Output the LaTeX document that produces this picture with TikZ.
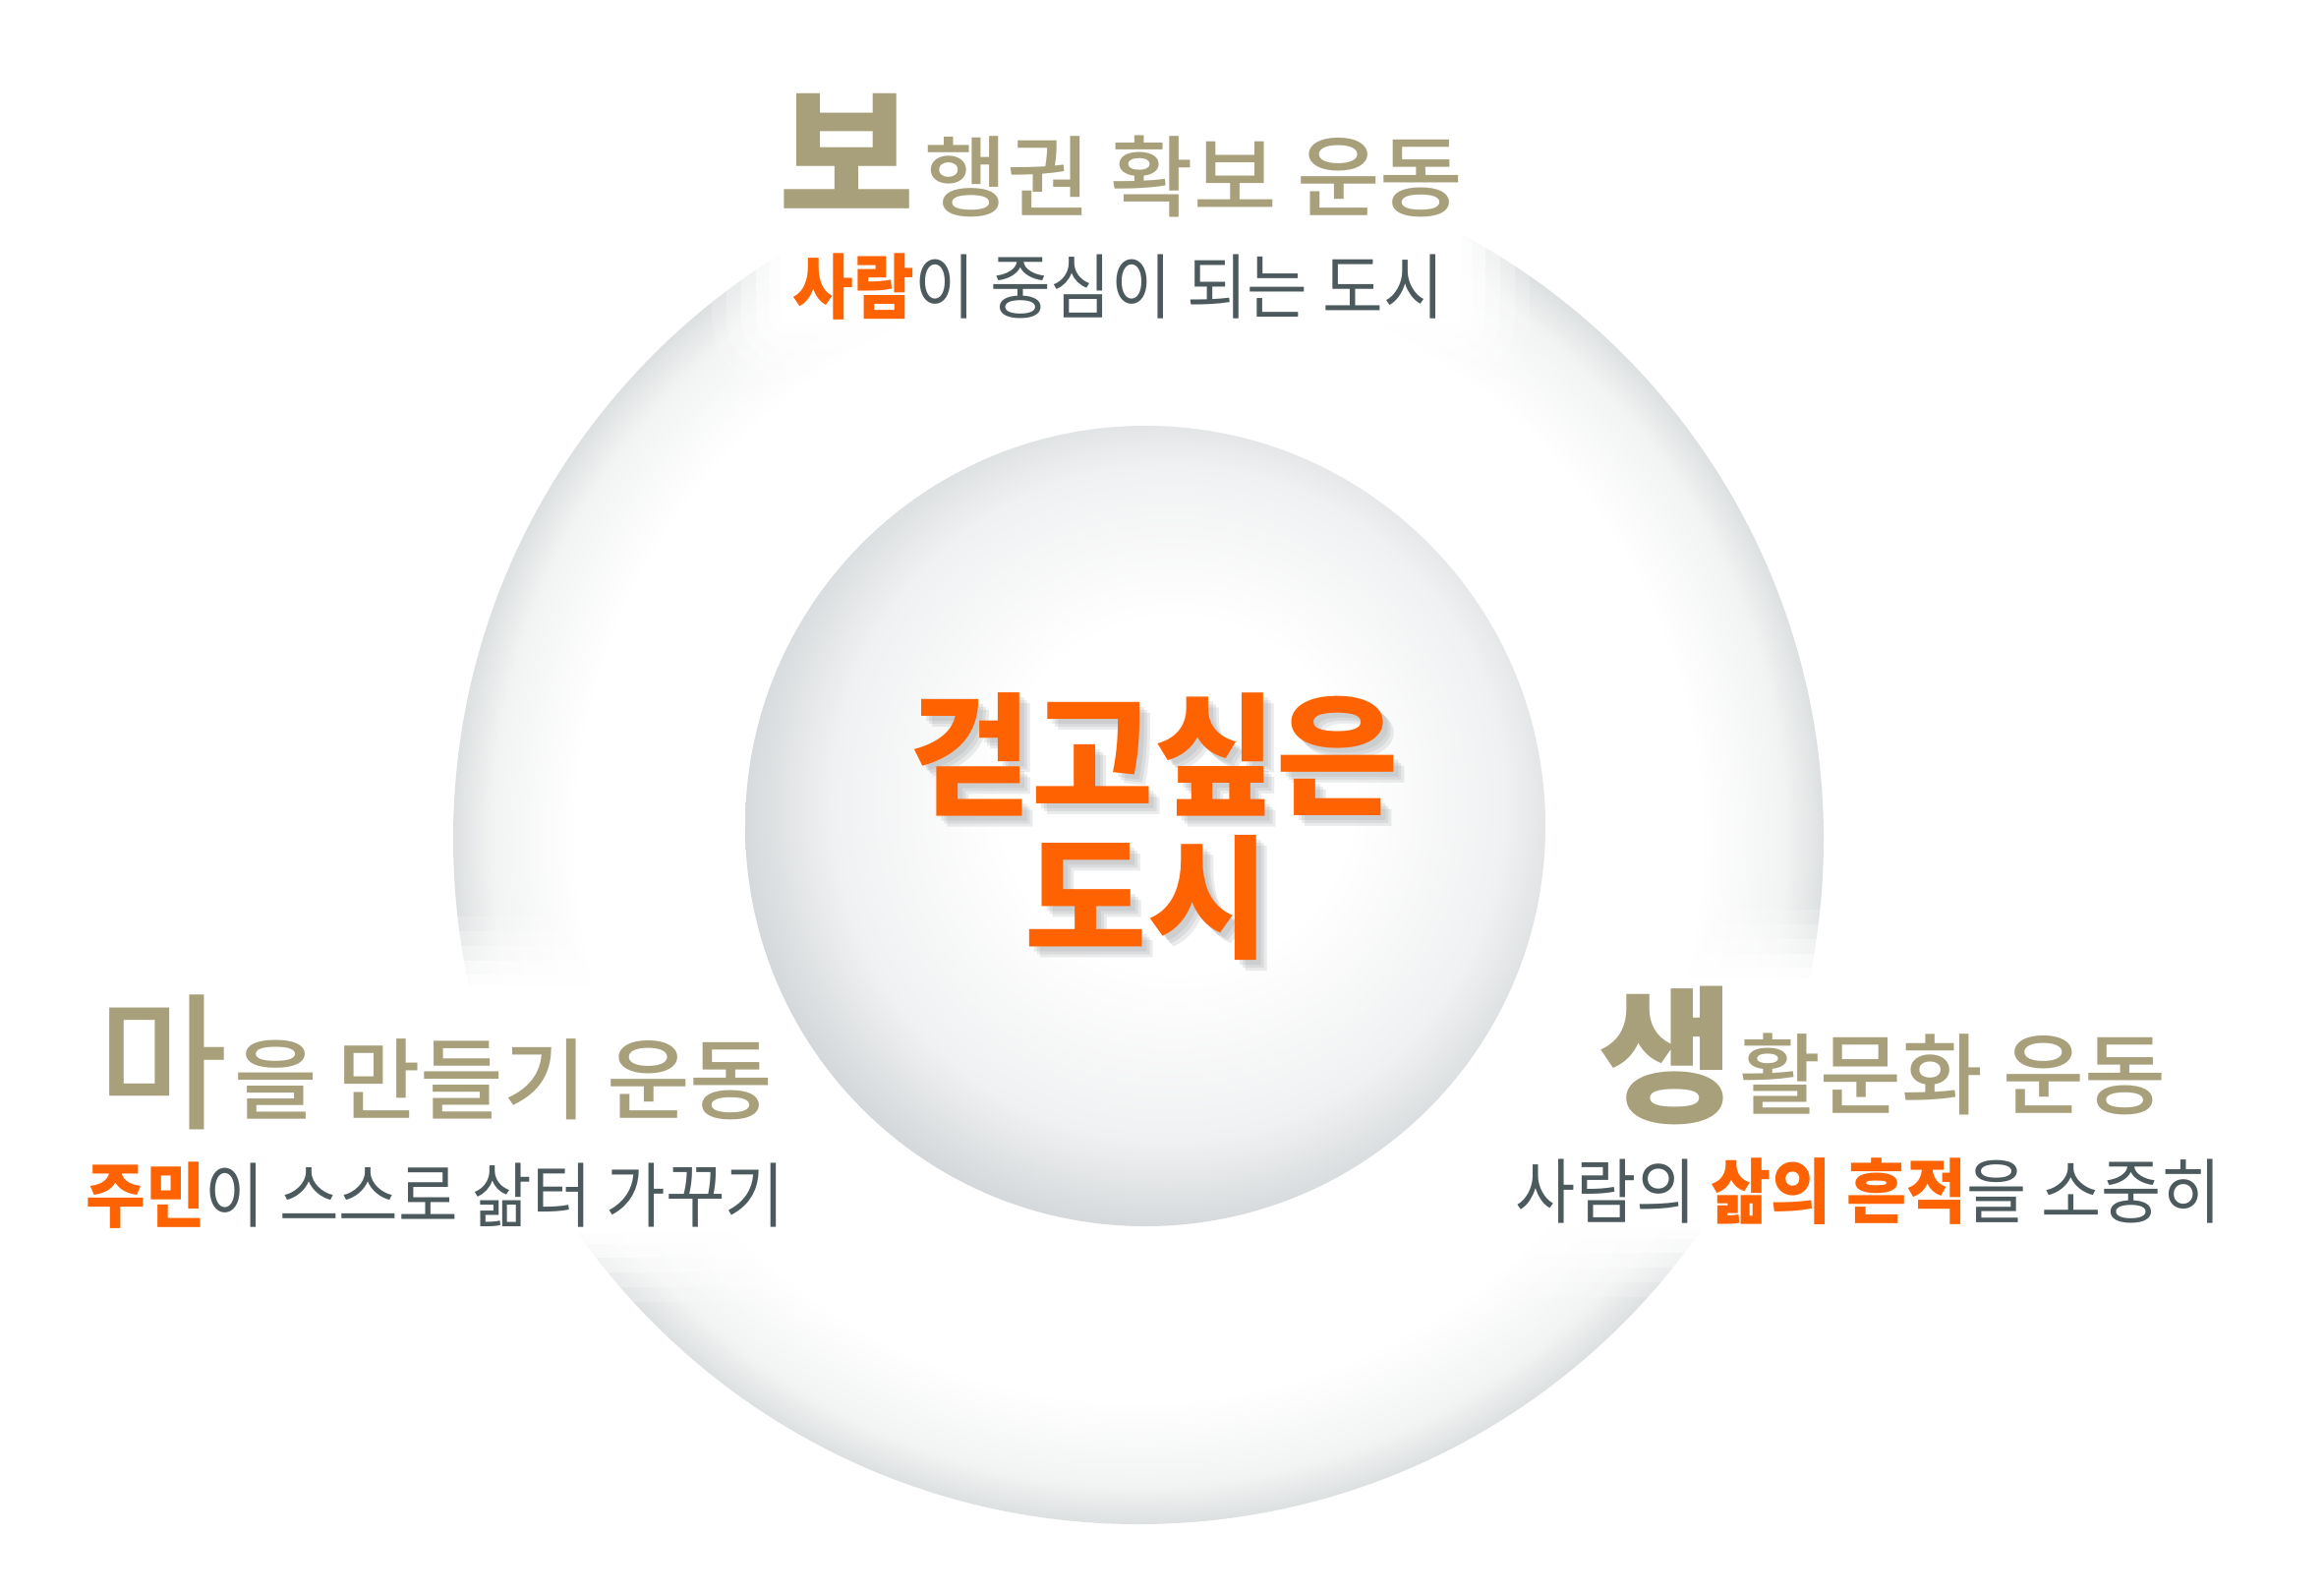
\documentclass[tikz,border=0pt]{standalone}
\usepackage{fontspec}
\setmainfont{Noto Sans CJK KR}
\newfontfamily\krmed{Noto Sans CJK KR Medium}
\usetikzlibrary{calc}
\definecolor{tanc}{HTML}{A8A07A}
\definecolor{orangec}{HTML}{FF6200}
\definecolor{greyc}{HTML}{4C5A5E}
\definecolor{ringmid}{HTML}{F2F3F3}
\definecolor{ringedge}{HTML}{DDE0E1}
\definecolor{ballmid}{HTML}{F0F1F2}
\definecolor{balledge}{HTML}{D2D6D8}
\definecolor{shadowc}{HTML}{9A9EA0}
\pgfdeclareradialshading{outerdisc}{\pgfpoint{0bp}{0bp}}{color(0bp)=(white); color(20.5bp)=(white); color(23.6bp)=(ringmid); color(25bp)=(ringedge); color(50bp)=(ringedge)}
\pgfdeclareradialshading{innerball}{\pgfpoint{2.5bp}{2.5bp}}{color(0bp)=(white); color(11bp)=(white); color(21bp)=(ballmid); color(27bp)=(balledge); color(50bp)=(balledge)}
\newcommand\softcover[4]{%
  \foreach \m/\op in {75/0.18,60/0.25,45/0.35,30/0.5,16/0.7}{%
    \fill[white, opacity=\op, rounded corners=\m] ({#1-\m},{#2-\m}) rectangle ({#3+\m},{#4+\m});}%
  \fill[white, rounded corners=5] ({#1-5},{#2-5}) rectangle ({#3+5},{#4+5});}
\tikzset{
  txt/.style={inner sep=0pt, outer sep=0pt, anchor=center},
  bigchar/.style={txt, text=tanc, font=\fontsize{150}{160}\selectfont\bfseries},
  bigcharmed/.style={txt, text=tanc, font=\fontsize{150}{160}\krmed},
  titlerest/.style={txt, anchor=west, text=tanc, font=\fontsize{90}{100}\krmed},
  subtitle/.style={txt, text=greyc, font=\fontsize{72}{80}\selectfont},
  centertxt/.style={txt, text=orangec, font=\fontsize{135}{150}\selectfont\bfseries},
  shadowtxt/.style={centertxt, text=shadowc, opacity=0.2}
}
\newcommand\hot[1]{{\color{orangec}\bfseries #1}}
\begin{document}
\begin{tikzpicture}[x=1pt,y=-1pt]
  \useasboundingbox (0,0) rectangle (2364,1621);
  \fill[white] (0,0) rectangle (2364,1621);
  % outer disc
  \shade[shading=outerdisc] (1158,853) circle[radius=697];
  % soft white covers behind the text blocks
  \softcover{799}{93}{1481}{324}
  \softcover{90}{1007}{796}{1249}
  \softcover{1545}{1000}{2257}{1244}
  % inner ball
  \shade[shading=innerball] (1165,840) circle[radius=407];
  % top block
  \node[bigchar] (bo) at (861,154) {보};
  \node[titlerest, xscale=1.02] (botitle) at (940,179) {행권 확보 운동};
  \node[subtitle, xscale=0.932] (bosub) at (1138,292) {\hot{사람}이 중심이 되는 도시};
  % centre
  \foreach \d in {5,8,11}{
    \node[shadowtxt] at (1174+\d,767+\d) {걷고싶은};
    \node[shadowtxt] at (1167+\d,913+\d) {도시};
  }
  \node[centertxt] (c1) at (1174,767) {걷고싶은};
  \node[centertxt] (c2) at (1167,913) {도시};
  % left block
  \node[bigcharmed, xscale=0.95] (ma) at (166,1080) {마};
  \node[titlerest, xscale=1.02] (matitle) at (238,1098) {을 만들기 운동};
  \node[subtitle, xscale=0.915] (masub) at (443,1216) {\hot{주민}이 스스로 삶터 가꾸기};
  % right block
  \node[bigchar] (saeng) at (1695,1073) {생};
  \node[titlerest, xscale=1.0] (saengtitle) at (1769,1092) {활문화 운동};
  \node[subtitle, xscale=0.924] (saengsub) at (1901,1212) {사람의 \hot{삶의 흔적}을 소중히};
\end{tikzpicture}
\end{document}
